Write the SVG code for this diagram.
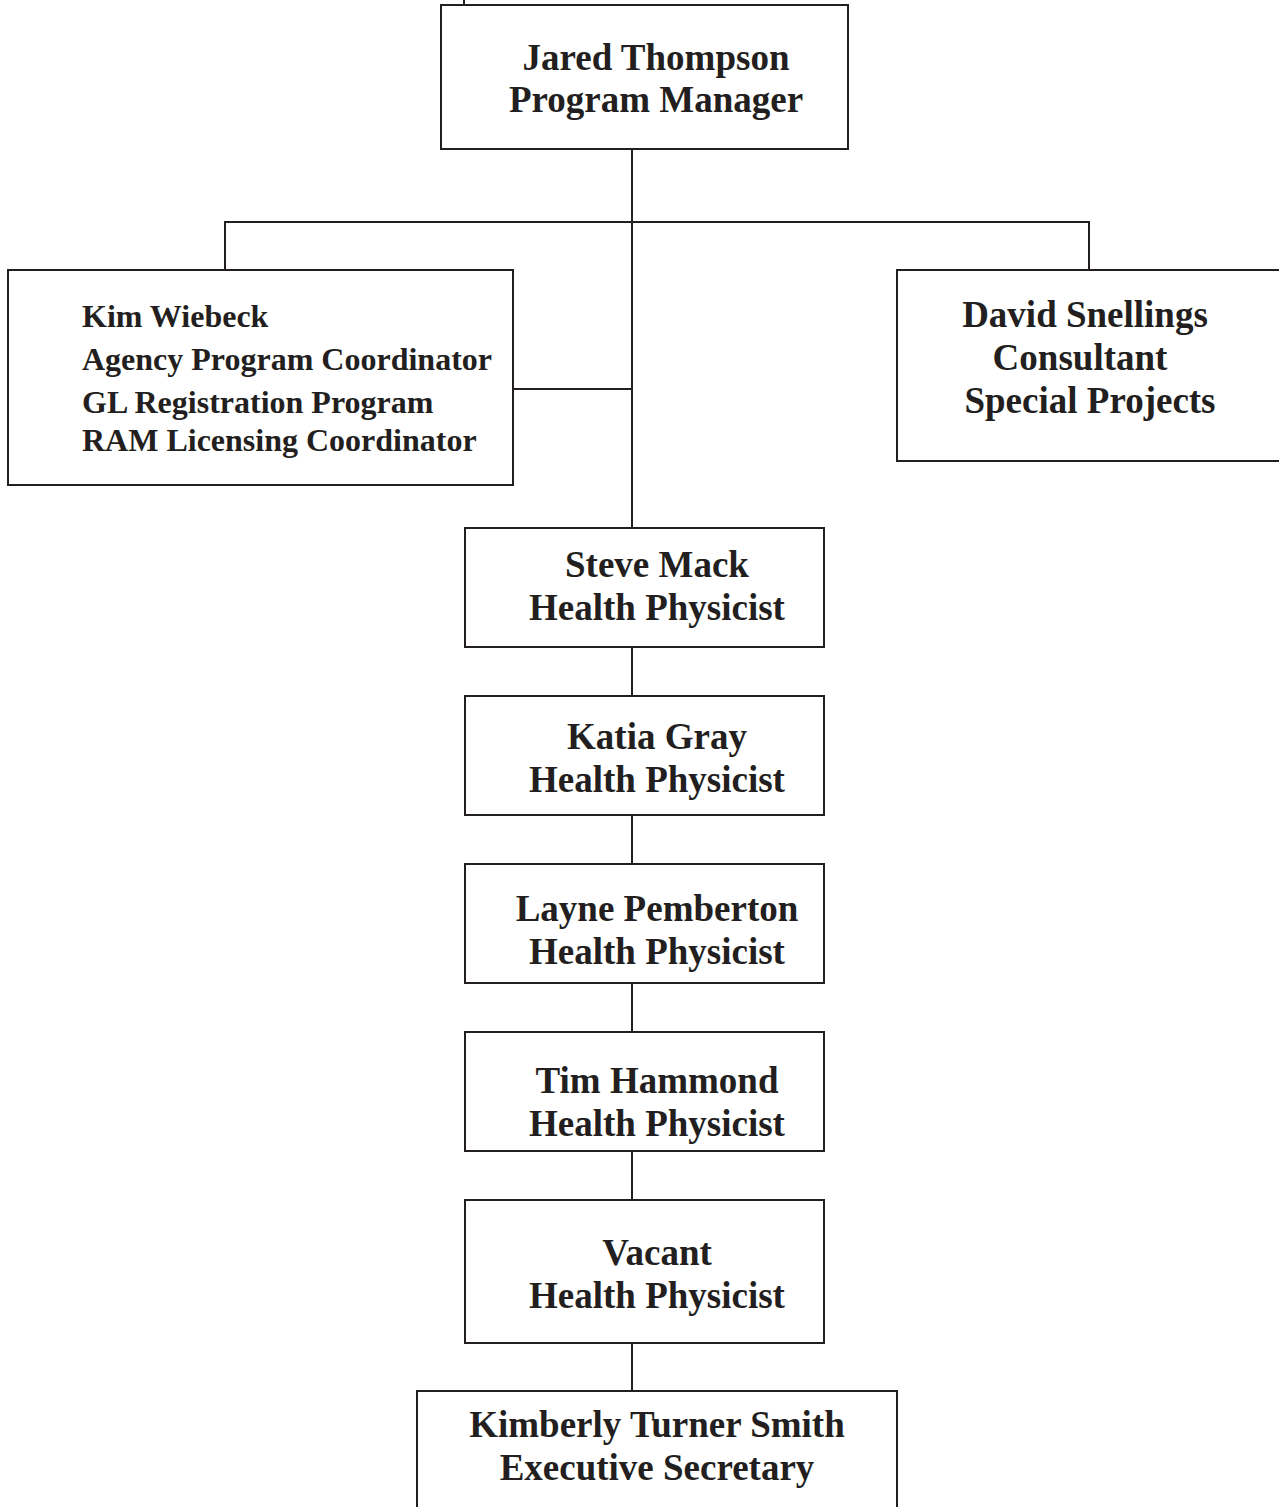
<svg xmlns="http://www.w3.org/2000/svg" width="1279" height="1507" viewBox="0 0 1279 1507">
<style>
.box{fill:#ffffff;stroke:#231f20;stroke-width:2}
.ln{stroke:#231f20;stroke-width:2;fill:none}
text{font-family:"Liberation Serif","Times New Roman",serif;font-weight:bold;fill:#231f20}
.t{font-size:37px;text-anchor:middle}
.s{font-size:32px}
</style>
<rect width="1279" height="1507" fill="#ffffff"/>
<g id="connectors">
<line class="ln" x1="464" y1="0" x2="464" y2="5"/>
<line class="ln" x1="632" y1="149" x2="632" y2="528"/>
<polyline class="ln" points="225,270 225,222 1089,222 1089,270"/>
<line class="ln" x1="513" y1="389" x2="632" y2="389"/>
<line class="ln" x1="632" y1="647" x2="632" y2="696"/>
<line class="ln" x1="632" y1="815" x2="632" y2="864"/>
<line class="ln" x1="632" y1="983" x2="632" y2="1032"/>
<line class="ln" x1="632" y1="1151" x2="632" y2="1200"/>
<line class="ln" x1="632" y1="1343" x2="632" y2="1391"/>
</g>
<g id="jared">
<rect class="box" x="441" y="5" width="407" height="144"/>
<text class="t" x="656" y="70">Jared Thompson</text>
<text class="t" x="656" y="112">Program Manager</text>
</g>
<g id="kim">
<rect class="box" x="8" y="270" width="505" height="215"/>
<text class="s" x="82" y="327">Kim Wiebeck</text>
<text class="s" x="82" y="370">Agency Program Coordinator</text>
<text class="s" x="82" y="413">GL Registration Program</text>
<text class="s" x="82" y="451">RAM Licensing Coordinator</text>
</g>
<g id="david">
<rect class="box" x="897" y="270" width="390" height="191"/>
<text class="t" x="1085" y="327">David Snellings</text>
<text class="t" x="1080" y="370">Consultant</text>
<text class="t" x="1090" y="413">Special Projects</text>
</g>
<g id="steve">
<rect class="box" x="465" y="528" width="359" height="119"/>
<text class="t" x="657" y="577">Steve Mack</text>
<text class="t" x="657" y="620">Health Physicist</text>
</g>
<g id="katia">
<rect class="box" x="465" y="696" width="359" height="119"/>
<text class="t" x="657" y="749">Katia Gray</text>
<text class="t" x="657" y="792">Health Physicist</text>
</g>
<g id="layne">
<rect class="box" x="465" y="864" width="359" height="119"/>
<text class="t" x="657" y="921">Layne Pemberton</text>
<text class="t" x="657" y="964">Health Physicist</text>
</g>
<g id="tim">
<rect class="box" x="465" y="1032" width="359" height="119"/>
<text class="t" x="657" y="1093">Tim Hammond</text>
<text class="t" x="657" y="1136">Health Physicist</text>
</g>
<g id="vacant">
<rect class="box" x="465" y="1200" width="359" height="143"/>
<text class="t" x="657" y="1265">Vacant</text>
<text class="t" x="657" y="1308">Health Physicist</text>
</g>
<g id="kimberly">
<rect class="box" x="417" y="1391" width="480" height="130"/>
<text class="t" x="657" y="1437">Kimberly Turner Smith</text>
<text class="t" x="657" y="1480">Executive Secretary</text>
</g>
</svg>
